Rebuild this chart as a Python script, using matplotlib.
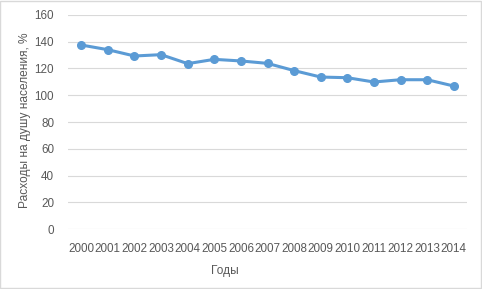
import matplotlib
matplotlib.use("Agg")
import matplotlib.pyplot as plt
from matplotlib.patches import Rectangle

years = ["2000", "2001", "2002", "2003", "2004", "2005", "2006", "2007",
         "2008", "2009", "2010", "2011", "2012", "2013", "2014"]
values = [137.5, 134.0, 129.3, 130.3, 123.6, 126.8, 125.6, 123.8,
          118.4, 113.6, 113.1, 109.9, 111.6, 111.6, 106.9]
yticks = [0, 20, 40, 60, 80, 100, 120, 140, 160]

plt.rcParams['font.family'] = ['Liberation Sans', 'DejaVu Sans']
txt = '#595959'

fig = plt.figure(figsize=(4.82, 2.89), dpi=100)
fig.patch.set_facecolor('white')
fig.patches.append(Rectangle((0.001, 0.002), 0.996, 0.994, transform=fig.transFigure,
                             fill=False, edgecolor='#d9d9d9', linewidth=1.0))

ax = fig.add_axes([0.141, 0.2066, 0.828, 0.742])
x = list(range(len(years)))
ax.plot(x, values, color='#5B9BD5', linewidth=2.2, marker='o', markersize=5.5,
        markerfacecolor='#5B9BD5', markeredgecolor='#5B9BD5', zorder=3)

ax.set_xlim(-0.5, len(years) - 0.5)
ax.set_ylim(0, 160)
ax.set_yticks(yticks)
ax.set_xticks(x)
ax.set_xticklabels(years)
ax.grid(axis='y', color='#d9d9d9', linewidth=0.8)
ax.set_axisbelow(True)
for s in ax.spines.values():
    s.set_visible(False)
ax.tick_params(axis='both', length=0, colors=txt, labelsize=8.4)
ax.tick_params(axis='y', pad=10)
ax.tick_params(axis='x', pad=10)

fig.text(0.052, 0.583, 'Расходы на душу населения, %', rotation=90, color=txt,
         fontsize=8.6, ha='center', va='center')
fig.text(0.466, 0.062, 'Годы', color=txt, fontsize=8.6, ha='center', va='center')

fig.savefig('out.png', dpi=100, facecolor='white')
